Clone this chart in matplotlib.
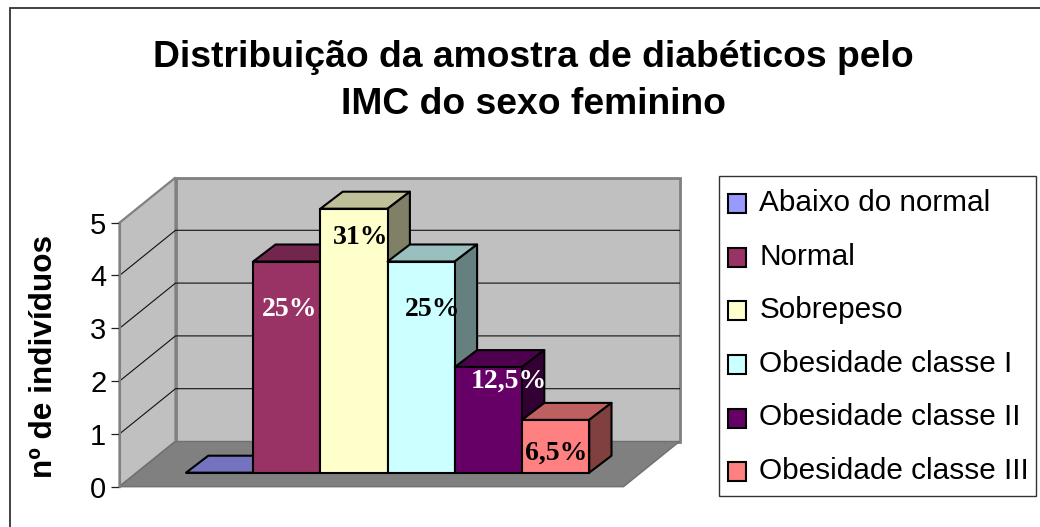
import matplotlib
matplotlib.use("Agg")
import matplotlib.pyplot as plt
from matplotlib.patches import Polygon, Rectangle, Patch
from matplotlib.colors import to_rgb
from matplotlib.legend_handler import HandlerPatch

categories = ["Abaixo do normal", "Normal", "Sobrepeso", "Obesidade classe I",
              "Obesidade classe II", "Obesidade classe III"]
values = [0, 4, 5, 4, 2, 1]
percent_labels = ["", "25%", "31%", "25%", "12,5%", "6,5%"]
label_colors = ["black", "white", "black", "black", "white", "black"]
bar_colors = ["#9999FF", "#993366", "#FFFFCC", "#CCFFFF", "#660066", "#FF8080"]
y_ticks = [0, 1, 2, 3, 4, 5]
title = "Distribuição da amostra de diabéticos pelo\nIMC do sexo feminino"
y_label = "nº de indivíduos"

# label placement relative to each bar's top centre, in pixels
label_shift_x = [0, 2.5, 7, 11.5, 20, 1]
label_shift_y = [0, 47.5, 28.5, 48.5, 14.5, 33.5]

W, H = 1040, 527
X0, SLOT = 186.0, 67.2      # bar plane: pixel x of first bar, px per category
Y0, UNIT = 472.7, 52.8      # bar plane: pixel y of zero, px per unit
BAR_DX, BAR_DY = 22.3, 17.0 # bar depth in pixels
FRONT_DX, FRONT_DY = -66.5, 14.0   # wall front edge relative to bar plane
BACK_DX, BACK_DY = -10.5, -31.2    # back wall relative to bar plane
FLOOR_W = 504.0             # width of the floor in px

plt.rcParams["font.family"] = ["Liberation Sans", "DejaVu Sans"]
fig = plt.figure(figsize=(W / 100, H / 100), dpi=100, facecolor="white")
ax = fig.add_axes([0, 0, 1, 1])
ax.set_xlim((0 - X0) / SLOT, (W - X0) / SLOT)
ax.set_ylim((Y0 - H) / UNIT, Y0 / UNIT)
ax.axis("off")

dx = lambda p: p / SLOT     # pixel offset -> x data
dy = lambda p: -p / UNIT    # pixel offset (downwards) -> y data

# chart frame: only its top and left edges fall inside the picture
fig.add_artist(plt.Line2D([9.5 / W, 9.5 / W, 1], [0, 1 - 7.5 / H, 1 - 7.5 / H],
                          color="#333333", lw=1.3, solid_joinstyle="miter"))

# walls and floor, defined by their corners on the value scale
vmax = y_ticks[-1]
fx, bx = dx(FRONT_DX), dx(BACK_DX)
fy, by = dy(FRONT_DY), dy(BACK_DY)
span = dx(FLOOR_W)
wall_ec = "#808080"
ax.add_patch(Polygon([(bx, by), (bx + span, by), (bx + span, by + vmax), (bx, by + vmax)],
                     fc="#C0C0C0", ec=wall_ec, lw=2.0, zorder=1))
ax.add_patch(Polygon([(fx, fy), (bx, by), (bx, by + vmax), (fx, fy + vmax)],
                     fc="#C0C0C0", ec=wall_ec, lw=1.6, zorder=1))
ax.add_patch(Polygon([(fx, fy), (bx, by), (bx + span, by), (fx + span, fy)],
                     fc="#808080", ec="#707070", lw=1.0, zorder=2))
for t in y_ticks[1:-1]:
    ax.plot([fx, bx, bx + span], [fy + t, by + t, by + t], color="#111111", lw=0.8, zorder=2)

# bars
bdx, bdy = dx(BAR_DX), dy(-BAR_DY)
shade = lambda c, f: tuple(v * f for v in to_rgb(c))
EDGE = 1.5
for i, (v, c) in enumerate(zip(values, bar_colors)):
    z = 3 + i
    ax.bar(i, v, width=1, align="edge", color=c, edgecolor="black", lw=EDGE, zorder=z + 0.2)
    ax.add_patch(Polygon([(i, v), (i + 1, v), (i + 1 + bdx, v + bdy), (i + bdx, v + bdy)],
                         fc=shade(c, 0.75), ec="black", lw=EDGE, joinstyle="round", zorder=z))
    ax.add_patch(Polygon([(i + 1, 0), (i + 1 + bdx, bdy), (i + 1 + bdx, v + bdy), (i + 1, v)],
                         fc=shade(c, 0.5), ec="black", lw=EDGE, joinstyle="round", zorder=z))

# percentage labels
for i, (v, s, tc) in enumerate(zip(values, percent_labels, label_colors)):
    if s:
        ax.text(i + 0.5 + dx(label_shift_x[i]), v + dy(label_shift_y[i]), s, color=tc,
                family=["Liberation Serif"], fontweight="bold", fontsize=20,
                ha="center", va="center", zorder=20)

# value axis on the front edge of the left wall
ax2 = fig.add_axes([119.5 / W, (H - 486.7) / H, 0.001, 264.0 / H], facecolor="none", zorder=5)
ax2.set_ylim(y_ticks[0], y_ticks[-1])
ax2.set_yticks(y_ticks)
ax2.set_xticks([])
for s in ["top", "right", "bottom"]:
    ax2.spines[s].set_visible(False)
ax2.spines["left"].set_color("#808080")
ax2.spines["left"].set_linewidth(1.5)
ax2.tick_params(axis="y", length=6.5, width=0.9, color="#222222", labelsize=21, pad=3)
fig.text(44.5 / W, 1 - 356 / H, y_label, rotation=90, fontsize=22.7, fontweight="bold",
         ha="center", va="center")

# title
fig.text(533 / W, 1 - 81 / H, title, fontsize=26.8, fontweight="bold", ha="center", va="center",
         linespacing=1.44)

# legend: frame first, entries inside it
fig.add_artist(Rectangle((719 / W, 1 - 496 / H), 317 / W, 320 / H, transform=fig.transFigure,
                         fc="white", ec="#333333", lw=1.0))


def lowered_swatch(legend, orig_handle, xdescent, ydescent, width, height, fontsize):
    # swatches sit about 3 px below the text centre in the legend rows
    return Rectangle((-xdescent - 0.7, -ydescent - 2.2), width, height)


handles = [Patch(fc=c, ec="black", lw=1.5) for c in bar_colors]
leg = fig.legend(handles, categories, loc="upper left",
                 bbox_to_anchor=(729 / W, 1 - 189 / H), bbox_transform=fig.transFigure,
                 fontsize=21.4, frameon=False,
                 handler_map={Patch: HandlerPatch(patch_func=lowered_swatch)},
                 handlelength=0.606, handleheight=0.606, handletextpad=0.42, labelspacing=0.862,
                 borderpad=0, borderaxespad=0)

fig.savefig("out.png", dpi=100)
